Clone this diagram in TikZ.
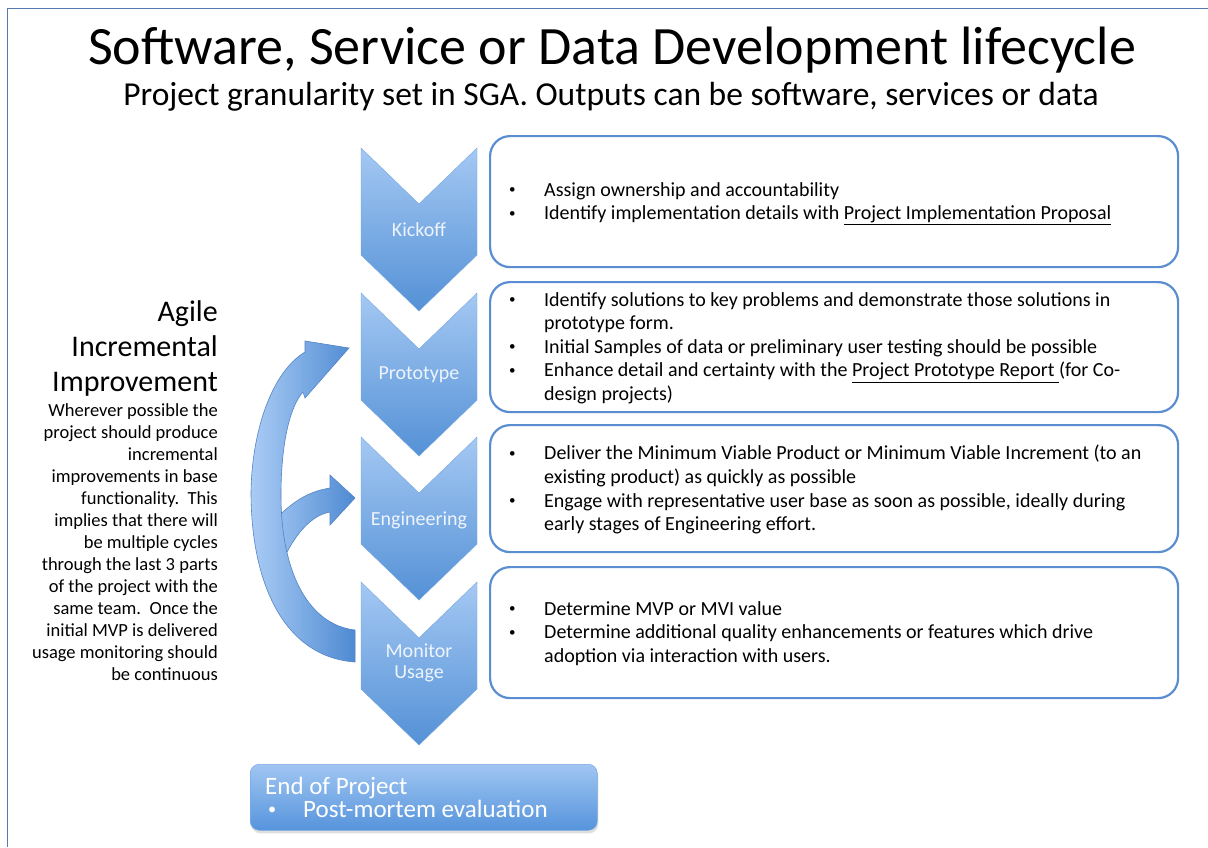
\documentclass[tikz,border=0pt]{standalone}
\usepackage{fontspec}
\usepackage{graphicx}
\setmainfont{Carlito}
\usetikzlibrary{shadows}
\definecolor{chevlight}{RGB}{164,200,243}
\definecolor{chevdark}{RGB}{84,145,214}
\definecolor{boxline}{RGB}{90,142,208}
\definecolor{frameline}{RGB}{84,120,176}
\definecolor{arrowline}{RGB}{82,132,198}
\definecolor{arrowlight}{RGB}{170,204,245}
\definecolor{arrowdark}{RGB}{78,138,210}
\definecolor{chevtext}{RGB}{238,244,252}
\definecolor{endtop}{RGB}{160,198,242}
\definecolor{endbot}{RGB}{86,148,220}
\newcommand\smbul{\raisebox{0.12em}{\scalebox{0.65}{\textbullet}}}
\newcommand\bul{\makebox[36pt][l]{\hspace*{1pt}\smbul}}
\newcommand\cnt{\hspace*{36pt}}
\newcommand\chevpath[1]{(361,#1) -- (419,{#1+56}) -- (477,#1) -- (477,{#1+107}) -- (419,{#1+163}) -- (361,{#1+107}) -- cycle}
\begin{document}
\begin{tikzpicture}[x=1pt,y=-1pt,
  chev/.style={top color=chevlight, bottom color=chevdark, draw=chevdark!80, line width=0.4pt},
  chevlabel/.style={text=chevtext, font=\fontsize{20}{21}\selectfont, align=center, inner sep=0},
  boxst/.style={draw=boxline, line width=2.2pt, rounded corners=20pt, fill=white, minimum width=688pt, anchor=north west},
  boxtext/.style={align=left, inner sep=0, anchor=north west, font=\fontsize{20}{23.6}\selectfont},
  arrowfill/.style={left color=arrowlight, right color=arrowdark, draw=arrowline, line width=0.6pt},
  endbox/.style={rounded corners=9pt, top color=endtop, bottom color=endbot, draw=endbot!80!white, line width=0.5pt,
     minimum width=347pt, minimum height=66pt, anchor=north west,
     drop shadow={opacity=0.25, shadow xshift=1pt, shadow yshift=-3pt}},
  endtext/.style={text=white, font=\fontsize{25}{28}\selectfont, inner sep=0, anchor=base west}
]
\useasboundingbox (0,0) rectangle (1208,847);
\fill[white] (0,0) rectangle (1208,847);
\draw[frameline, line width=1.5pt] (7.5,847) -- (7.5,8.5) -- (1208,8.5);

% title
\node[anchor=base, inner sep=0, font=\fontsize{54}{60}\selectfont] (title) at (612,64) {Software, Service or Data Development lifecycle};
\node[anchor=base, inner sep=0, font=\fontsize{33.5}{38}\selectfont] (subtitle) at (611,105) {Project granularity set in SGA. Outputs can be software, services or data};

% left text
\node[anchor=north east, align=right, inner sep=0, font=\fontsize{30}{35}\selectfont] (agile) at (218,300) {Agile\\Incremental\\Improvement};
\node[anchor=north east, align=right, inner sep=0, font=\fontsize{18.5}{22}\selectfont] (desc) at (218,403) {Wherever possible the\\project should produce\\incremental\\improvements in base\\functionality.\ \ This\\implies that there will\\be multiple cycles\\through the last 3 parts\\of the project with the\\same team.\ \ Once the\\initial MVP is delivered\\usage monitoring should\\be continuous};

% curved arrows
\path[arrowfill] (258,540) .. controls (285,505) and (305,492) .. (330,488) -- (330,475) -- (355,498) -- (330,525) -- (330,512) .. controls (308,516) and (288,540) .. (270,592) -- cycle;
\path[arrowfill] (355,662) .. controls (285,657) and (251,585) .. (251,492) .. controls (252,430) and (272,372) .. (305,352) -- (305,341) -- (349,348) -- (305,398) -- (303,392) .. controls (291,405) and (281,440) .. (281,495) .. controls (281,575) and (310,625) .. (355,630) -- cycle;

% chevrons
\path[chev] \chevpath{148};
\path[chev] \chevpath{293};
\path[chev] \chevpath{437};
\path[chev] \chevpath{582};
\node[chevlabel] (kick) at (419,230) {Kickoff};
\node[chevlabel] (proto) at (419,375) {Prototype};
\node[chevlabel] (eng) at (419,520) {Engineering};
\node[chevlabel] (mon) at (419,663) {Monitor\\Usage};

% boxes
\node[boxst, minimum height=131pt] (b1) at (489,135) {};
\node[boxst, minimum height=130pt] (b2) at (489,281) {};
\node[boxst, minimum height=127pt] (b3) at (489,424) {};
\node[boxst, minimum height=131pt] (b4) at (489,566) {};

\node[boxtext] (t1) at (508,182) {\bul Assign ownership and accountability\\\bul Identify implementation details with \underline{Project Implementation Proposal}};
\node[boxtext] (t2) at (508,292) {\bul Identify solutions to key problems and demonstrate those solutions in\\\cnt prototype form.\\\bul Initial Samples of data or preliminary user testing should be possible\\\bul Enhance detail and certainty with the \underline{Project Prototype Report\ }(for Co-\\\cnt design projects)};
\node[boxtext] (t3) at (508,445) {\bul Deliver the Minimum Viable Product or Minimum Viable Increment (to an\\\cnt existing product) as quickly as possible\\\bul Engage with representative user base as soon as possible, ideally during\\\cnt early stages of Engineering effort.};
\node[boxtext] (t4) at (508,601) {\bul Determine MVP or MVI value\\\bul Determine additional quality enhancements or features which drive\\\cnt adoption via interaction with users.};

% end of project
\node[endbox] (end) at (250,764) {};
\node[endtext] (endt) at (265,794) {End of Project};
\node[endtext] (endb) at (268,817) {\smbul};
\node[endtext] (endp) at (303,817) {Post-mortem evaluation};
\end{tikzpicture}
\end{document}
